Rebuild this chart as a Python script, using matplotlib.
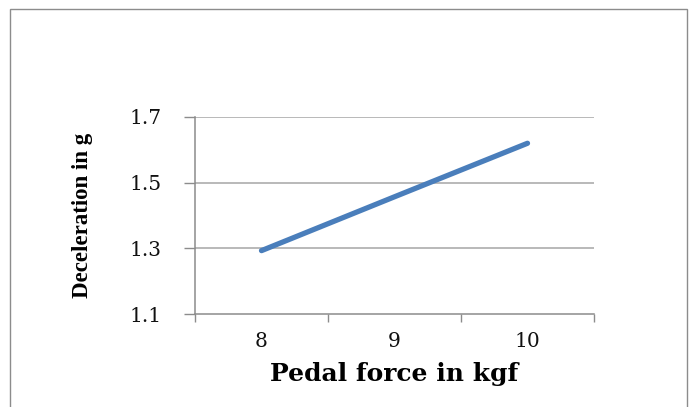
import matplotlib
matplotlib.use('Agg')
import matplotlib.pyplot as plt
from matplotlib.patches import Rectangle

# data
pedal_force = ['8', '9', '10']
deceleration = [1.293, 1.457, 1.62]
y_ticks = [1.1, 1.3, 1.5, 1.7]

c_line = '#4a7ebb'
c_grid = '#a6a6a6'
serif = ['Liberation Serif', 'DejaVu Serif']
wide_serif = ['DejaVu Serif']

fig = plt.figure(figsize=(6.94, 4.07), dpi=100)
W, H = 694, 407

# outer chart border (Excel style)
fig.patches.append(Rectangle((10 / W, -0.05), 677 / W, 1 - 9 / H + 0.05,
                             transform=fig.transFigure, fill=False,
                             edgecolor='#8c8c8c', linewidth=1.0))

ax = fig.add_axes([195 / W, 1 - 314 / H, 399 / W, 197 / H])
x = list(range(len(pedal_force)))
ax.plot(x, deceleration, color=c_line, linewidth=3.8, solid_capstyle='round', zorder=3)

ax.set_xlim(-0.5, len(pedal_force) - 0.5)
ax.set_ylim(1.1, 1.7)
ax.set_yticks(y_ticks)
ax.set_yticklabels([f'{v:.1f}' for v in y_ticks], fontfamily=wide_serif, fontsize=14.5)
ax.set_xticks(x)
ax.set_xticklabels(pedal_force, fontfamily=wide_serif, fontsize=14.5)
ax.set_xticks([i - 0.5 for i in range(len(pedal_force) + 1)], minor=True)

ax.tick_params(axis='x', which='major', length=0, pad=13, colors='#111111')
ax.tick_params(axis='x', which='minor', length=6, width=1, color='#8c8c8c', direction='out')
ax.tick_params(axis='y', length=8, width=1, pad=16, colors='#111111')
ax.tick_params(axis='y', color='#8c8c8c')

for yv in y_ticks[1:]:
    ax.axhline(yv, color=c_grid, linewidth=1.1, zorder=1)

for s in ['top', 'right']:
    ax.spines[s].set_visible(False)
for s in ['left', 'bottom']:
    ax.spines[s].set_color('#8c8c8c')
    ax.spines[s].set_linewidth(1.1)

ax.set_xlabel('Pedal force in kgf', fontfamily=wide_serif, fontsize=18, fontweight='bold', labelpad=8)
ax.set_ylabel('Deceleration in g', fontfamily=serif, fontsize=16.5, fontweight='bold', labelpad=26)

fig.savefig('out.png', dpi=100)
